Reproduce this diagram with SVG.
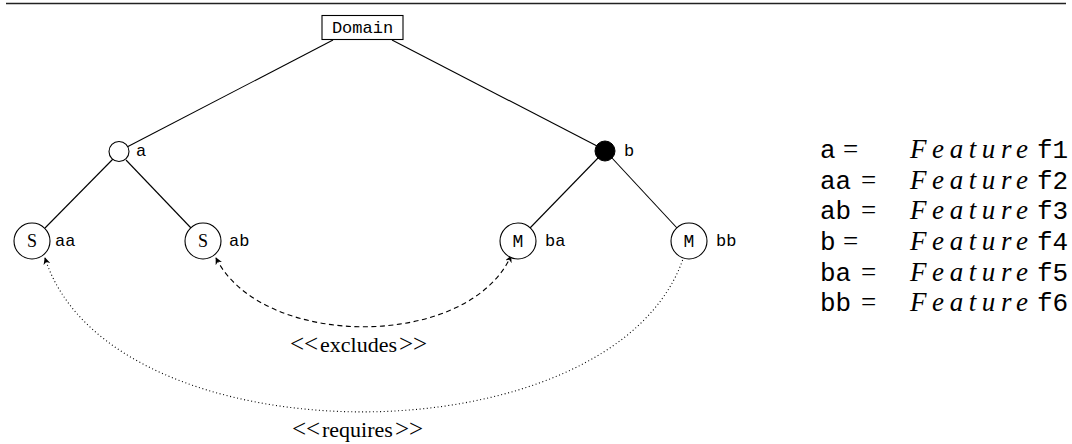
<svg xmlns="http://www.w3.org/2000/svg" width="1072" height="444" viewBox="0 0 1072 444">
  <style>
    .edge { stroke: #000; stroke-width: 1.1; fill: none; }
    .node { stroke: #000; stroke-width: 1.1; fill: #fff; }
    .mono { font-family: "Liberation Mono", "DejaVu Sans Mono", monospace; fill: #000; }
    .serif { font-family: "Liberation Serif", "DejaVu Serif", serif; fill: #000; }
    .lbl { font-size: 17px; }
    .inner { font-size: 18px; text-anchor: middle; }
    .leg { font-size: 26px; }
    .eq { font-family: "Liberation Serif", "DejaVu Serif", serif; font-size: 27px; }
    .feat { font-family: "Liberation Serif", "DejaVu Serif", serif; font-style: italic; font-size: 27px; }
    .arc { font-size: 22px; }
    .ang { font-size: 25px; }
  </style>
  <defs>
    <marker id="tip" viewBox="0 0 10 10" refX="9" refY="5" markerWidth="7" markerHeight="7" markerUnits="userSpaceOnUse" orient="auto-start-reverse">
      <path d="M0,0 L10,5 L0,10 L3,5 Z" fill="#000"/>
    </marker>
  </defs>

  <!-- rule at the top -->
  <line x1="6" y1="3.5" x2="1066" y2="3.5" stroke="#222" stroke-width="1.6"/>

  <!-- tree edges and constraint arcs -->
  <g id="connectors">
    <line class="edge" x1="333" y1="40" x2="127" y2="147"/>
    <line class="edge" x1="392" y1="40" x2="597" y2="146"/>
    <line class="edge" x1="113" y1="159" x2="45" y2="228"/>
    <line class="edge" x1="126" y1="160" x2="191" y2="228"/>
    <line class="edge" x1="598" y1="158" x2="530" y2="228"/>
    <line class="edge" x1="612" y1="158" x2="677" y2="228"/>
    <path class="edge" stroke-dasharray="5,3.5" marker-start="url(#tip)" marker-end="url(#tip)" d="M 216 258 C 262 350, 468 350, 511 256"/>
    <path class="edge" stroke-dasharray="1,2.6" stroke-width="1" marker-start="url(#tip)" d="M 45 258 C 110 463, 612 463, 683 259"/>
  </g>

  <g id="domain">
    <rect class="node" x="322" y="15.5" width="81" height="24"/>
    <text class="mono" x="362.5" y="33" font-size="17" text-anchor="middle">Domain</text>
  </g>

  <g id="node-a">
    <circle class="node" cx="119" cy="151.5" r="10"/>
    <text class="mono lbl" x="136" y="156">a</text>
  </g>

  <g id="node-b">
    <circle cx="605" cy="151" r="10" fill="#000" stroke="#000"/>
    <text class="mono lbl" x="624" y="156">b</text>
  </g>

  <g id="node-aa">
    <circle class="node" cx="32" cy="241" r="18"/>
    <text class="serif inner" x="32" y="247">S</text>
    <text class="mono lbl" x="55" y="246">aa</text>
  </g>

  <g id="node-ab">
    <circle class="node" cx="203" cy="241" r="18"/>
    <text class="serif inner" x="203" y="247">S</text>
    <text class="mono lbl" x="229" y="246">ab</text>
  </g>

  <g id="node-ba">
    <circle class="node" cx="518" cy="241" r="18"/>
    <text class="mono inner" x="518" y="247">M</text>
    <text class="mono lbl" x="545" y="246">ba</text>
  </g>

  <g id="node-bb">
    <circle class="node" cx="689" cy="241" r="18"/>
    <text class="mono inner" x="689" y="247">M</text>
    <text class="mono lbl" x="716" y="246">bb</text>
  </g>

  <g id="arc-labels">
    <text class="serif arc" y="352"><tspan class="ang" x="290">&lt;&lt;</tspan><tspan x="320">excludes</tspan><tspan class="ang" x="399">&gt;&gt;</tspan></text>
    <text class="serif arc" y="437"><tspan class="ang" x="292">&lt;&lt;</tspan><tspan x="322">requires</tspan><tspan class="ang" x="395">&gt;&gt;</tspan></text>
  </g>

  <!-- legend: name = Feature id -->
  <g id="legend">
    <text class="leg" y="158"><tspan class="mono" x="820">a</tspan><tspan class="eq" x="843">=</tspan><tspan class="feat" x="910" textLength="118">Feature</tspan><tspan class="mono" x="1037">f1</tspan></text>
    <text class="leg" y="189"><tspan class="mono" x="820">aa</tspan><tspan class="eq" x="861">=</tspan><tspan class="feat" x="910" textLength="118">Feature</tspan><tspan class="mono" x="1037">f2</tspan></text>
    <text class="leg" y="219"><tspan class="mono" x="820">ab</tspan><tspan class="eq" x="861">=</tspan><tspan class="feat" x="910" textLength="118">Feature</tspan><tspan class="mono" x="1037">f3</tspan></text>
    <text class="leg" y="250"><tspan class="mono" x="820">b</tspan><tspan class="eq" x="843">=</tspan><tspan class="feat" x="910" textLength="118">Feature</tspan><tspan class="mono" x="1037">f4</tspan></text>
    <text class="leg" y="281"><tspan class="mono" x="820">ba</tspan><tspan class="eq" x="861">=</tspan><tspan class="feat" x="910" textLength="118">Feature</tspan><tspan class="mono" x="1037">f5</tspan></text>
    <text class="leg" y="311"><tspan class="mono" x="820">bb</tspan><tspan class="eq" x="861">=</tspan><tspan class="feat" x="910" textLength="118">Feature</tspan><tspan class="mono" x="1037">f6</tspan></text>
  </g>
</svg>
